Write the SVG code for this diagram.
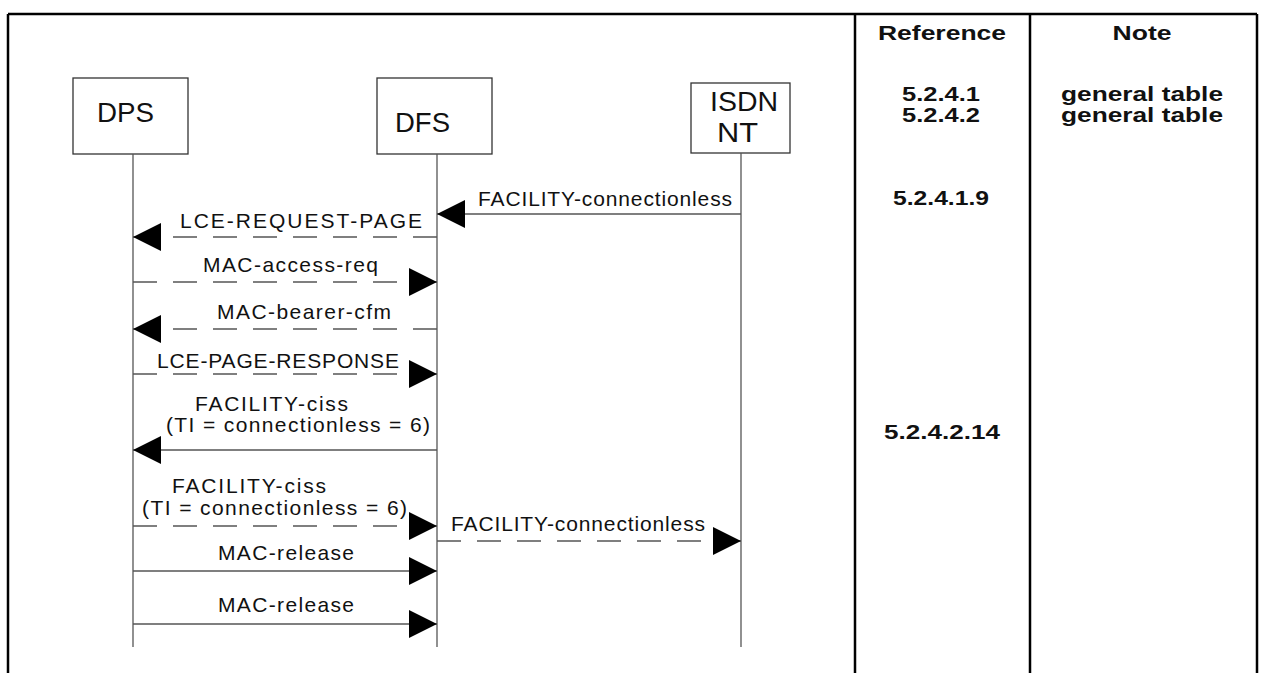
<svg xmlns="http://www.w3.org/2000/svg" width="1261" height="673" viewBox="0 0 1261 673">
  <style>
    .frame { stroke: #000; stroke-width: 2.5; fill: none; }
    .box { fill: #fff; stroke: #333; stroke-width: 1.3; }
    .life { stroke: #555; stroke-width: 1.3; fill: none; }
    .msg { stroke: #555; stroke-width: 1.4; fill: none; marker-end: url(#head); }
    .dash { stroke-dasharray: 24 16; }
    .lbl { font-family: "Liberation Sans", Arial, sans-serif; font-size: 21px; fill: #111; }
    .ent { font-family: "Liberation Sans", Arial, sans-serif; font-size: 28px; fill: #111; }
    .col { font-family: "Liberation Sans", Arial, sans-serif; font-size: 21px; font-weight: bold; fill: #111; text-anchor: middle; }
  </style>
  <defs>
    <marker id="head" markerUnits="userSpaceOnUse" markerWidth="29" markerHeight="29" refX="28" refY="14" orient="auto" viewBox="0 0 29 29">
      <path d="M0,0 L28,14 L0,28 Z" fill="#000"/>
    </marker>
  </defs>

  <rect width="1261" height="673" fill="#fff"/>

  <!-- table frame with Reference / Note columns -->
  <g id="table">
    <path class="frame" d="M8,14 H1257 M8,14 V673 M855,14 V673 M1030,14 V673 M1257,14 V673"/>
    <text class="col" x="942" y="40" textLength="128" lengthAdjust="spacingAndGlyphs">Reference</text>
    <text class="col" x="1142" y="40" textLength="59" lengthAdjust="spacingAndGlyphs">Note</text>
    <text class="col" x="941" y="100.5" textLength="78" lengthAdjust="spacingAndGlyphs">5.2.4.1</text>
    <text class="col" x="941" y="122" textLength="78" lengthAdjust="spacingAndGlyphs">5.2.4.2</text>
    <text class="col" x="1142" y="100.5" textLength="162" lengthAdjust="spacingAndGlyphs">general table</text>
    <text class="col" x="1142" y="122" textLength="162" lengthAdjust="spacingAndGlyphs">general table</text>
    <text class="col" x="941" y="205" textLength="96" lengthAdjust="spacingAndGlyphs">5.2.4.1.9</text>
    <text class="col" x="942" y="439" textLength="116" lengthAdjust="spacingAndGlyphs">5.2.4.2.14</text>
  </g>

  <!-- entities with their lifelines -->
  <g id="dps">
    <rect class="box" x="73" y="78" width="115" height="76"/>
    <line class="life" x1="133" y1="154" x2="133" y2="647"/>
    <text class="ent" x="97" y="122" textLength="57" lengthAdjust="spacingAndGlyphs">DPS</text>
  </g>
  <g id="dfs">
    <rect class="box" x="377" y="78" width="115" height="76"/>
    <line class="life" x1="437" y1="154" x2="437" y2="647"/>
    <text class="ent" x="395" y="132" textLength="55" lengthAdjust="spacingAndGlyphs">DFS</text>
  </g>
  <g id="isdn-nt">
    <rect class="box" x="691" y="83" width="99" height="70"/>
    <line class="life" x1="741" y1="153" x2="741" y2="647"/>
    <text class="ent" x="710" y="111" textLength="68" lengthAdjust="spacingAndGlyphs">ISDN</text>
    <text class="ent" x="717" y="142" textLength="41" lengthAdjust="spacingAndGlyphs">NT</text>
  </g>

  <!-- messages -->
  <g id="connectors">
    <path class="msg" d="M741,214 H437"/>
    <path class="msg dash" d="M437,237 H133"/>
    <path class="msg dash" d="M133,282 H437"/>
    <path class="msg dash" d="M437,329 H133"/>
    <path class="msg dash" d="M133,374 H437"/>
    <path class="msg" d="M437,450 H133"/>
    <path class="msg dash" d="M133,526 H437"/>
    <path class="msg dash" d="M437,541 H741"/>
    <path class="msg" d="M133,571 H437"/>
    <path class="msg" d="M133,624 H437"/>
  </g>

  <g id="labels">
    <text class="lbl" x="478" y="206" textLength="254" lengthAdjust="spacing">FACILITY-connectionless</text>
    <text class="lbl" x="180" y="228" textLength="242" lengthAdjust="spacing">LCE-REQUEST-PAGE</text>
    <text class="lbl" x="203" y="272" textLength="175" lengthAdjust="spacing">MAC-access-req</text>
    <text class="lbl" x="217" y="319" textLength="174" lengthAdjust="spacing">MAC-bearer-cfm</text>
    <text class="lbl" x="157" y="368" textLength="242" lengthAdjust="spacing">LCE-PAGE-RESPONSE</text>
    <text class="lbl" x="195" y="411" textLength="153" lengthAdjust="spacing">FACILITY-ciss</text>
    <text class="lbl" x="166" y="432" textLength="264" lengthAdjust="spacing">(TI = connectionless = 6)</text>
    <text class="lbl" x="172" y="493" textLength="154" lengthAdjust="spacing">FACILITY-ciss</text>
    <text class="lbl" x="142" y="515" textLength="265" lengthAdjust="spacing">(TI = connectionless = 6)</text>
    <text class="lbl" x="451" y="531" textLength="254" lengthAdjust="spacing">FACILITY-connectionless</text>
    <text class="lbl" x="218" y="560" textLength="136" lengthAdjust="spacing">MAC-release</text>
    <text class="lbl" x="218" y="612" textLength="136" lengthAdjust="spacing">MAC-release</text>
  </g>
</svg>
